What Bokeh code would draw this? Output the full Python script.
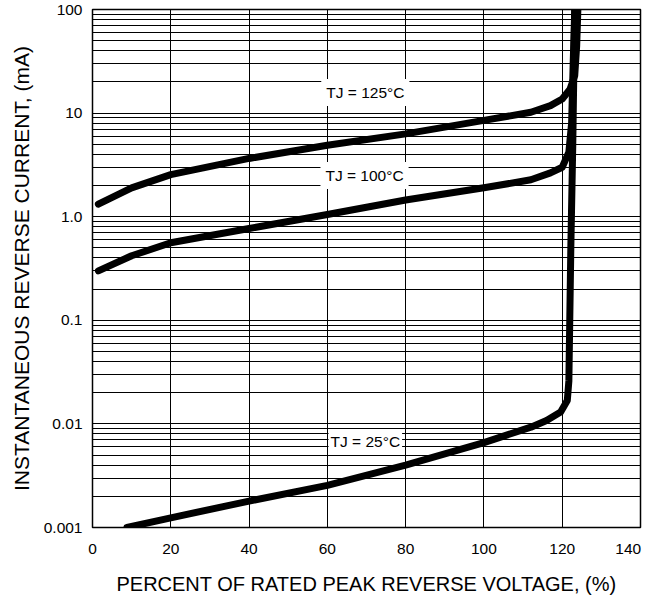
from bokeh.plotting import figure
from bokeh.models import Range1d, FixedTicker, Label
from bokeh.embed import file_html
from bokeh.resources import INLINE

# ---- data ----
x_125 = [1.5, 10, 20, 40, 60, 80, 100, 112, 117, 120, 122, 123.2, 123.7, 124.0]
y_125 = [1.32, 1.9, 2.55, 3.65, 4.9, 6.3, 8.5, 10.2, 11.8, 13.7, 17.0, 23.0, 45.0, 100.0]

x_100 = [1.5, 10, 20, 40, 60, 80, 100, 112, 117, 120, 121.7, 122.4, 122.8, 123.2]
y_100 = [0.3, 0.42, 0.56, 0.77, 1.05, 1.45, 1.9, 2.27, 2.65, 3.0, 4.2, 8.0, 30.0, 100.0]

x_25 = [8.8, 20, 40, 60, 80, 100, 112, 116, 119.6, 121.3, 121.7, 122.2, 122.7, 123.2]
y_25 = [0.001, 0.00124, 0.0018, 0.00255, 0.004, 0.0066, 0.0093, 0.0108, 0.013, 0.0168, 0.026, 0.5, 5.0, 100.0]

x_ticks = [0, 20, 40, 60, 80, 100, 120, 140]
y_ticks = [0.001, 0.01, 0.1, 1, 10, 100]
y_tick_labels = ["0.001", "0.01", "0.1", "1.0", "10", "100"]

curve_labels = ["TJ = 125°C", "TJ = 100°C", "TJ = 25°C"]
label_x = [69.7, 69.5, 69.7]
label_y = [15.8, 2.5, 0.0068]
label_pad = [5, 5, 2]

x_title = "PERCENT OF RATED PEAK REVERSE VOLTAGE, (%)"
y_title = "INSTANTANEOUS REVERSE CURRENT, (mA)"

FONT = "Liberation Sans"

p = figure(width=645, height=598,
           x_range=Range1d(0, 140), y_range=Range1d(0.001, 100),
           y_axis_type="log",
           output_backend="svg", toolbar_location=None,
           min_border_left=92, min_border_right=5,
           min_border_top=9, min_border_bottom=71)

p.background_fill_color = "white"
p.border_fill_color = "white"
p.outline_line_color = "black"
p.outline_line_width = 1.5

# ticks / grid
minor_y = [m * 10.0 ** e for e in range(-3, 2) for m in range(2, 10)]
p.yaxis.ticker = FixedTicker(ticks=y_ticks, minor_ticks=minor_y)
p.xaxis.ticker = FixedTicker(ticks=x_ticks)
p.yaxis.major_label_overrides = {t: s for t, s in zip(y_ticks, y_tick_labels)}
p.xaxis.major_label_overrides = {140: "140\u00a0"}

for g in (p.xgrid, p.ygrid):
    g.grid_line_color = "black"
    g.grid_line_width = 1
    g.grid_line_alpha = 1.0
p.ygrid.minor_grid_line_color = "black"
p.ygrid.minor_grid_line_width = 1

for ax in (p.xaxis, p.yaxis):
    ax.axis_line_color = None
    ax.major_tick_line_color = None
    ax.minor_tick_line_color = None
    ax.major_tick_in = 0
    ax.major_tick_out = 0
    ax.minor_tick_in = 0
    ax.minor_tick_out = 0
    ax.major_label_text_font = FONT
    ax.major_label_text_font_size = "15.5px"
    ax.major_label_text_color = "black"
    ax.axis_label_text_font = FONT
    ax.axis_label_text_font_style = "normal"
    ax.axis_label_text_color = "black"

p.xaxis.axis_label_text_font_size = "20px"
p.yaxis.axis_label_text_font_size = "21px"
p.xaxis.axis_label = x_title
p.yaxis.axis_label = y_title
p.xaxis.major_label_standoff = 12
p.xaxis.axis_label_standoff = 13
p.yaxis.major_label_standoff = 10
p.yaxis.axis_label_standoff = 8

# curves
for xs, ys in ((x_125, y_125), (x_100, y_100), (x_25, y_25)):
    p.line(xs, ys, line_color="black", line_width=7,
           line_join="round", line_cap="round")

# curve labels
for t, lx, ly, pad in zip(curve_labels, label_x, label_y, label_pad):
    p.add_layout(Label(x=lx, y=ly, text=t, text_align="center",
                       text_baseline="middle", text_font=FONT,
                       text_font_size="15.5px", text_color="black",
                       background_fill_color="white", padding=pad))

open("out.html", "w").write(file_html(p, INLINE))
